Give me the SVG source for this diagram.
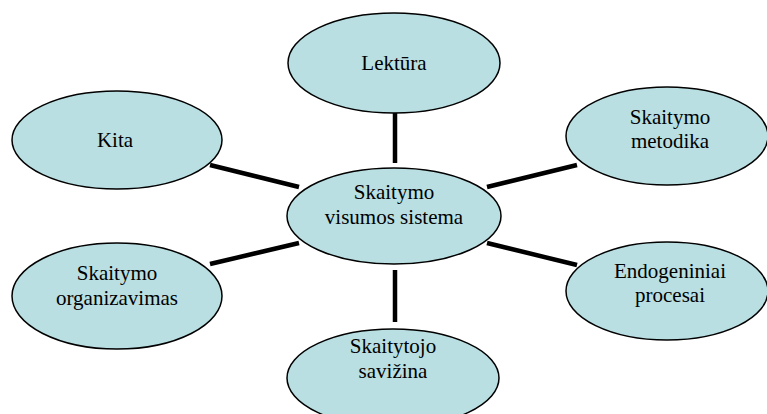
<svg xmlns="http://www.w3.org/2000/svg" width="767" height="414" viewBox="0 0 767 414">
<style>
.n{fill:#B9DFE2;stroke:#000;stroke-width:1.5}
.t{font-family:'Liberation Serif','Times New Roman',serif;font-size:21px;fill:#000;text-anchor:middle}
.c{stroke:#000;stroke-width:4.5;fill:none}
</style>
<rect width="767" height="414" fill="#fff"/>
<g id="connectors">
<line class="c" x1="395" y1="113" x2="395" y2="163"/>
<line class="c" x1="395" y1="270" x2="395" y2="322"/>
<line class="c" x1="210" y1="165" x2="299" y2="187"/>
<line class="c" x1="210" y1="264" x2="299" y2="243"/>
<line class="c" x1="487" y1="187" x2="577" y2="165"/>
<line class="c" x1="487" y1="243" x2="577" y2="265"/>
</g>
<g id="center">
<ellipse class="n" cx="394" cy="216" rx="107" ry="48"/>
<text class="t" x="394" y="199">Skaitymo</text>
<text class="t" x="394" y="224">visumos sistema</text>
</g>
<g id="lektura">
<ellipse class="n" cx="394" cy="63" rx="106" ry="50"/>
<text class="t" x="394" y="70">Lektūra</text>
</g>
<g id="metodika">
<ellipse class="n" cx="667" cy="136" rx="101" ry="49"/>
<text class="t" x="670" y="124">Skaitymo</text>
<text class="t" x="670" y="148">metodika</text>
</g>
<g id="kita">
<ellipse class="n" cx="117" cy="140" rx="105" ry="49"/>
<text class="t" x="115" y="147">Kita</text>
</g>
<g id="organizavimas">
<ellipse class="n" cx="117" cy="296" rx="105" ry="53"/>
<text class="t" x="117" y="280">Skaitymo</text>
<text class="t" x="117" y="305">organizavimas</text>
</g>
<g id="endogeniniai">
<ellipse class="n" cx="667" cy="291" rx="101" ry="49"/>
<text class="t" x="670" y="278">Endogeniniai</text>
<text class="t" x="670" y="302">procesai</text>
</g>
<g id="savizina">
<ellipse class="n" cx="393" cy="378" rx="106" ry="49"/>
<text class="t" x="393" y="353">Skaitytojo</text>
<text class="t" x="393" y="378">savižina</text>
</g>
</svg>
